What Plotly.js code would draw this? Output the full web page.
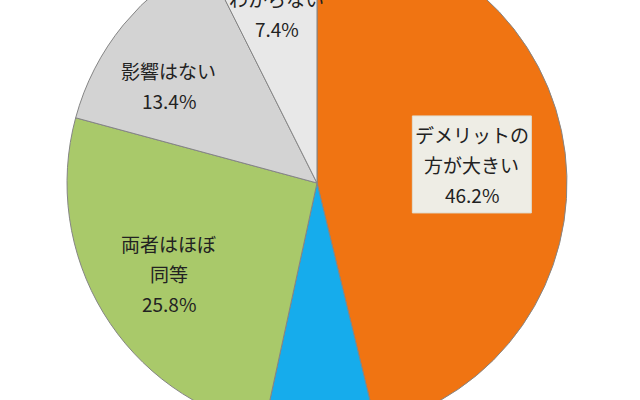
<!DOCTYPE html>
<html>
<head>
<meta charset="utf-8">
<script src="https://cdn.plot.ly/plotly-3.0.1.min.js"></script>
<style>
html,body{margin:0;padding:0;width:640px;height:400px;overflow:hidden;background:#fff;}
#chart{position:absolute;left:0;top:-117px;width:640px;height:600px;}
</style>
</head>
<body>
<div id="chart"></div>
<script>
// data
var categories = ['デメリットの<br>方が大きい', 'メリットの<br>方が大きい', '両者はほぼ<br>同等', '影響はない', 'わからない'];
var shares = [46.2, 7.2, 25.8, 13.4, 7.4];

// styles / label placement (not data)
var sliceColors = ['#F07412', '#16ACEC', '#A9C96A', '#D3D3D3', '#E8E8E8'];
var labelShown = [true, false, true, true, true];      // blue label lies below the visible area in the reference
var labelRadius = [0.624, 0.7, 0.693, 0.71, 0.695];    // fraction of pie radius
var labelAngleNudge = [0, 0, 0, -6, 0];                // degrees
var labelBox = [true, false, false, false, false];
var lineGap = 30;

var W = 640, H = 600;
var domX = [0.1047, 0.8859], domY = [0.0833, 0.9167];
var fontFam = '"Noto Sans CJK JP", "Noto Sans", sans-serif';

var trace = {
  type: 'pie',
  labels: categories,
  values: shares,
  sort: false,
  direction: 'clockwise',
  rotation: 0,
  marker: {colors: sliceColors, line: {color: '#858585', width: 1}},
  textinfo: 'none',
  hoverinfo: 'none',
  showlegend: false,
  domain: {x: domX, y: domY}
};

// label anchors from slice mid-angles
var total = shares.reduce(function (a, b) { return a + b; }, 0);
var cx = (domX[0] + domX[1]) / 2 * W;
var cy = (1 - (domY[0] + domY[1]) / 2) * H;
var R = Math.min((domX[1] - domX[0]) * W, (domY[1] - domY[0]) * H) / 2;
var annotations = [];
var shapes = [];
var cum = 0;
shares.forEach(function (v, i) {
  var mid = (cum + v / 2) / total * 360 + labelAngleNudge[i];
  cum += v;
  if (!labelShown[i]) return;
  var t = mid * Math.PI / 180;
  var px = cx + labelRadius[i] * R * Math.sin(t);
  var py = cy - labelRadius[i] * R * Math.cos(t);
  var lines = categories[i].split('<br>').concat([v.toFixed(1) + '%']);
  if (labelBox[i]) {
    var bw = 119, bh = 97;
    shapes.push({
      type: 'rect', xref: 'paper', yref: 'paper',
      x0: (px - bw / 2) / W, x1: (px + bw / 2) / W,
      y0: 1 - (py + bh / 2) / H, y1: 1 - (py - bh / 2) / H,
      fillcolor: '#EEEDE5', line: {color: '#E0DDCF', width: 1}
    });
  }
  lines.forEach(function (ln, j) {
    var ly = py + (j - (lines.length - 1) / 2) * lineGap;
    annotations.push({
      xref: 'paper', yref: 'paper',
      x: px / W, y: 1 - ly / H,
      xanchor: 'center', yanchor: 'middle',
      text: ln,
      showarrow: false,
      font: {family: fontFam, size: 19, color: '#222222'}
    });
  });
});

var layout = {
  width: W,
  height: H,
  margin: {l: 0, r: 0, t: 0, b: 0},
  paper_bgcolor: '#ffffff',
  showlegend: false,
  shapes: shapes,
  annotations: annotations
};

Plotly.newPlot('chart', [trace], layout, {staticPlot: true, displayModeBar: false});
</script>
</body>
</html>
